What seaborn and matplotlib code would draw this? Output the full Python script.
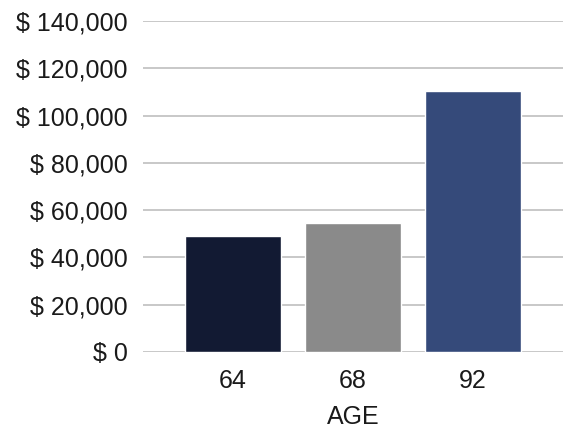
import matplotlib
matplotlib.use("Agg")
import matplotlib.pyplot as plt
import seaborn as sns
import pandas as pd
from matplotlib.ticker import FuncFormatter

# data
ages = ["64", "68", "92"]
amounts = [49000, 54700, 110300]
bar_colors = ["#121a33", "#8a8a8a", "#354a7a"]
y_ticks = [0, 20000, 40000, 60000, 80000, 100000, 120000, 140000]

df = pd.DataFrame({"AGE": ages, "amount": amounts})

sns.set_style("white")
plt.rcParams["font.family"] = ["Liberation Sans", "DejaVu Sans"]

fig = plt.figure(figsize=(5.66, 4.30), dpi=100)
ax = fig.add_axes([0.2527, 0.1814, 0.9947 - 0.2527, 0.951 - 0.1814])

sns.barplot(data=df, x="AGE", y="amount", hue="AGE", palette=bar_colors,
            legend=False, width=0.8, saturation=1, ax=ax, zorder=3)

ax.set_ylim(0, 140000)
ax.set_xlim(-0.75, 2.75)
ax.set_yticks(y_ticks)
ax.yaxis.set_major_formatter(FuncFormatter(lambda v, p: f"$ {int(v):,}"))
ax.grid(axis="y", color="#c4c4c4", linewidth=1.3, zorder=0)
ax.set_axisbelow(True)
for s in ax.spines.values():
    s.set_visible(False)

ax.tick_params(axis="both", length=0, labelsize=18, colors="#1a1a1a")
ax.tick_params(axis="y", pad=11)
ax.tick_params(axis="x", pad=12)
ax.set_xlabel("AGE", fontsize=18, color="#1a1a1a", labelpad=9)
ax.set_ylabel("")

fig.savefig("out.png", dpi=100)
